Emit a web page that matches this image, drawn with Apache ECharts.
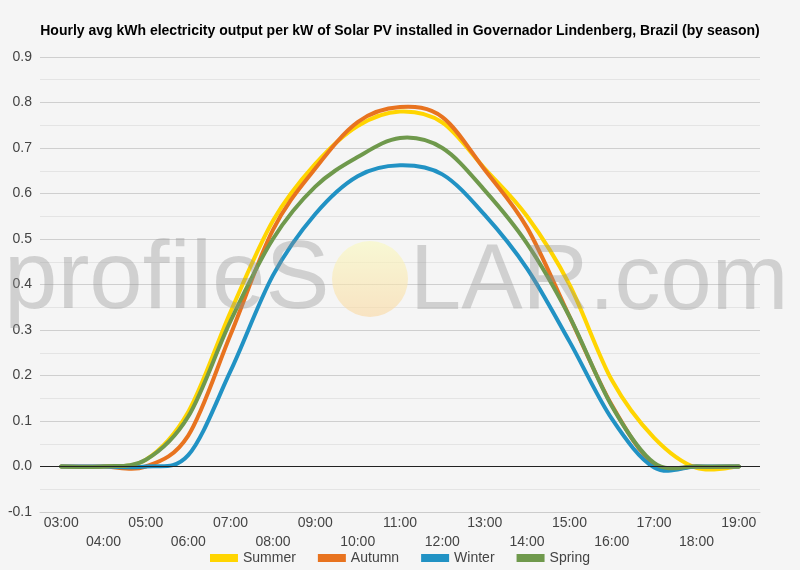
<!DOCTYPE html>
<html>
<head>
<meta charset="utf-8">
<script src="https://cdn.jsdelivr.net/npm/echarts@6/dist/echarts.min.js"></script>
<style>
  html, body { margin: 0; padding: 0; background: #f5f5f5; }
  #main { width: 800px; height: 570px; }
</style>
</head>
<body>
<div id="main"></div>
<script>
const hours = ['03:00', '04:00', '05:00', '06:00', '07:00', '08:00', '09:00', '10:00', '11:00',
  '12:00', '13:00', '14:00', '15:00', '16:00', '17:00', '18:00', '19:00'];

const summer = [0.0, 0.0, 0.015, 0.12, 0.34, 0.54, 0.665, 0.748, 0.78, 0.756, 0.655, 0.55, 0.40, 0.19, 0.063, -0.003, 0.0];
const autumn = [0.0, 0.0, 0.0, 0.068, 0.29, 0.52, 0.655, 0.757, 0.79, 0.768, 0.652, 0.525, 0.33, 0.135, 0.005, 0.0, 0.0];
const winter = [0.0, 0.0, 0.0, 0.025, 0.21, 0.42, 0.555, 0.638, 0.662, 0.642, 0.553, 0.435, 0.275, 0.105, -0.002, 0.0, 0.0];
const spring = [0.0, 0.0, 0.015, 0.11, 0.32, 0.50, 0.615, 0.68, 0.722, 0.70, 0.607, 0.49, 0.33, 0.133, 0.008, 0.0, 0.0];

const seasons = ['Summer', 'Autumn', 'Winter', 'Spring'];
const colors = ['#FFD500', '#E8731F', '#2192C4', '#6F994C'];

const chart = echarts.init(document.getElementById('main'));

// smooth curve through the points (Catmull-Rom turned into bezier segments)
function makeSeries(name, values, idx) {
  return {
    name: name,
    type: 'custom',
    data: values.map((v, i) => [i, v]),
    itemStyle: {color: colors[idx]},
    z: 3,
    renderItem: function (params, api) {
      if (params.dataIndex !== 0) return null;
      const pts = values.map((v, i) => api.coord([i, v]));
      let d = 'M' + pts[0][0] + ' ' + pts[0][1];
      for (let i = 0; i < pts.length - 1; i++) {
        const p0 = pts[Math.max(i - 1, 0)];
        const p1 = pts[i];
        const p2 = pts[i + 1];
        const p3 = pts[Math.min(i + 2, pts.length - 1)];
        const c1x = p1[0] + (p2[0] - p0[0]) / 6;
        const c1y = p1[1] + (p2[1] - p0[1]) / 6;
        const c2x = p2[0] - (p3[0] - p1[0]) / 6;
        const c2y = p2[1] - (p3[1] - p1[1]) / 6;
        d += ' C' + c1x + ' ' + c1y + ' ' + c2x + ' ' + c2y + ' ' + p2[0] + ' ' + p2[1];
      }
      return {
        type: 'path',
        shape: {pathData: d},
        style: {fill: null, stroke: colors[idx], lineWidth: 4, lineJoin: 'round', lineCap: 'round'}
      };
    }
  };
}

const option = {
  backgroundColor: '#f5f5f5',
  title: {
    text: 'Hourly avg kWh electricity output per kW of Solar PV installed in Governador Lindenberg, Brazil (by season)',
    left: 'center',
    top: 19,
    textStyle: {fontFamily: 'Liberation Sans, Arial', fontSize: 14, fontWeight: 'bold', color: '#000'}
  },
  grid: {left: 40, right: 40, top: 57, bottom: 58},
  legend: {
    bottom: 0,
    left: 'center',
    itemWidth: 28,
    itemHeight: 8,
    itemGap: 22,
    icon: 'rect',
    textStyle: {fontFamily: 'Liberation Sans, Arial', fontSize: 14, color: '#444'},
    data: seasons
  },
  xAxis: {
    type: 'category',
    data: hours,
    boundaryGap: true,
    axisLine: {onZero: false, lineStyle: {color: '#ccc'}},
    axisTick: {show: false},
    axisLabel: {
      interval: 0,
      color: '#444',
      fontFamily: 'Liberation Sans, Arial',
      fontSize: 14,
      lineHeight: 19,
      margin: 2,
      formatter: function (value, index) {
        return index % 2 === 1 ? '\n' + value : value;
      }
    }
  },
  yAxis: {
    type: 'value',
    min: -0.1,
    max: 0.9,
    interval: 0.1,
    axisLine: {show: false},
    axisTick: {show: false},
    minorTick: {show: false, splitNumber: 2},
    splitLine: {lineStyle: {color: '#cfcfcf'}},
    minorSplitLine: {show: true, lineStyle: {color: '#e4e4e4'}},
    axisLabel: {
      color: '#444',
      fontFamily: 'Liberation Sans, Arial',
      fontSize: 14,
      margin: 8,
      formatter: function (v) {
        return v.toFixed(1);
      }
    }
  },
  graphic: [
    {
      type: 'text',
      left: 4,
      top: 234,
      z: 10,
      style: {
        text: 'profileS',
        font: '96px "Liberation Sans", Arial',
        fill: 'rgba(145,145,145,0.36)'
      }
    },
    {
      type: 'circle',
      shape: {cx: 370, cy: 279, r: 38},
      z: 10,
      style: {
        fill: new echarts.graphic.LinearGradient(0, 0, 0, 1, [
          {offset: 0, color: 'rgba(250,250,190,0.6)'},
          {offset: 1, color: 'rgba(250,215,160,0.6)'}
        ])
      }
    },
    {
      type: 'text',
      left: 410,
      top: 238,
      z: 10,
      style: {
        text: 'LAR.com',
        font: '92px "Liberation Sans", Arial',
        fill: 'rgba(145,145,145,0.36)'
      }
    }
  ],
  series: [
    makeSeries('Summer', summer, 0),
    makeSeries('Autumn', autumn, 1),
    makeSeries('Winter', winter, 2),
    makeSeries('Spring', spring, 3),
    {
      name: 'zero',
      type: 'line',
      data: [],
      markLine: {
        silent: true,
        symbol: 'none',
        label: {show: false},
        lineStyle: {color: '#222', width: 1, type: 'solid'},
        data: [{yAxis: 0}]
      },
      z: 2
    }
  ]
};

chart.setOption(option);
</script>
</body>
</html>
